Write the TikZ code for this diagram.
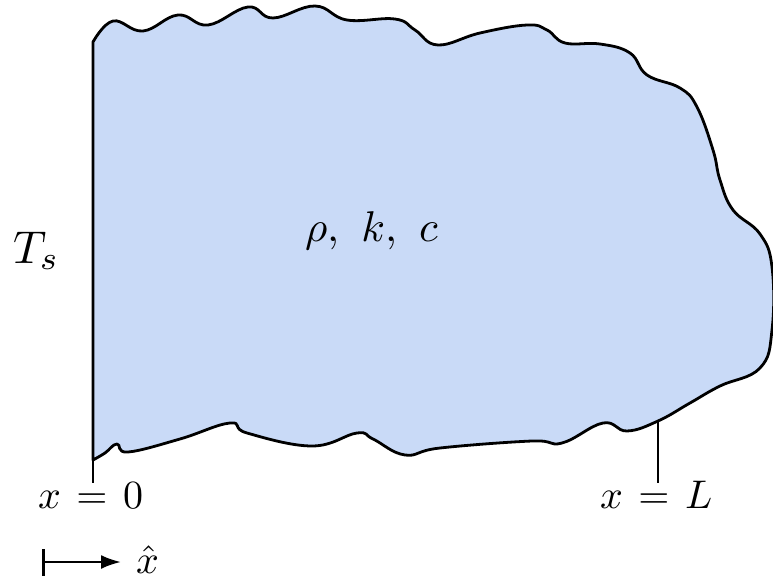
\documentclass[tikz,border=0pt]{standalone}
\usetikzlibrary{arrows.meta}
\definecolor{slabfill}{RGB}{201,218,247}
\tikzset{
  outline/.style={line width=2.8pt, black, line join=round},
  tickline/.style={line width=2.4pt, black},
  lbl/.style={inner sep=0pt, outer sep=0pt},
}
\begin{document}
\begin{tikzpicture}[x=1pt,y=-1pt]
\useasboundingbox (0,0) rectangle (773,580);
% slab body
\filldraw[outline, fill=slabfill] (93,42) -- (93,460)
  -- plot[smooth, tension=0.7] coordinates {
  (93,460) (105,453) (117,444) (128,452) (180,439) (230,423) (247,433)
  (312,446) (357,433) (373,439) (405,455) (440,448) (532,441) (562,443)
  (603,423) (627,431) (658,421) (690,403) (720,386) (760,368) (772,330)
  (772,267) (760,234) (733,210) (720,180) (713,150) (697,107) (680,88)
  (647,75) (630,53) (600,44) (565,43) (547,30) (527,25) (480,33) (438,45)
  (415,30) (395,19) (347,20) (315,6) (273,18) (248,7) (208,25) (178,15)
  (143,31) (113,21) (93,42)} -- cycle;
% boundary ticks
\coordinate (x0top) at (93,42);
\coordinate (x0bot) at (93,483);
\coordinate (xLtop) at (658,421);
\coordinate (xLbot) at (658,483);
\draw[tickline] (x0top) -- (x0bot);
\draw[tickline] (xLtop) -- (xLbot);
% labels
\node[lbl, anchor=base west, scale=4.6] (Ts) at (13,263) {$T_s$};
\node[lbl, anchor=base west, scale=4.3] (props) at (305,241) {$\rho,\hspace{0.35em}k,\hspace{0.35em}c$};
\node[lbl, anchor=base west, scale=4.0] (xzero) at (38,508) {$x\mkern2mu=\mkern2mu0$};
\node[lbl, anchor=base west, scale=4.0] (xL) at (600,508) {$x\mkern2mu=\mkern2mu L$};
% direction arrow
\coordinate (ax0) at (42,562);
\coordinate (ax1) at (121,562);
\node[lbl, anchor=base west, scale=4.0] (xhat) at (136,573) {$\hat{x}$};
\draw[line width=2.5pt, {Bar[width=27pt]}-{Latex[length=20pt,width=14pt]}] (ax0) -- (ax1);
\end{tikzpicture}
\end{document}
